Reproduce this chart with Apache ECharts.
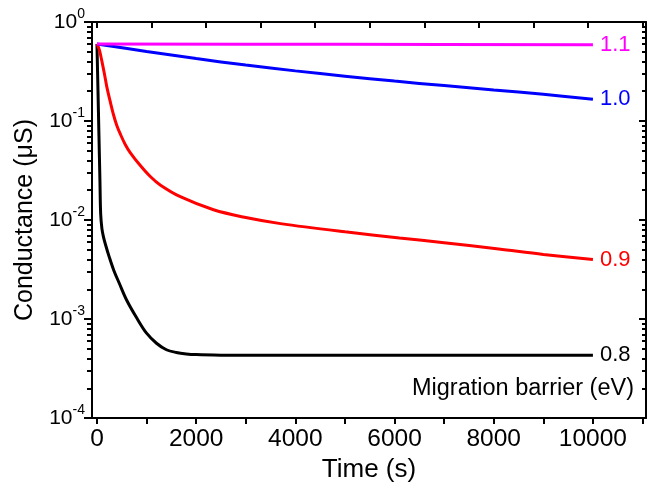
<!DOCTYPE html>
<html>
<head>
<meta charset="utf-8">
<script src="https://cdn.jsdelivr.net/npm/echarts@6/dist/echarts.min.js"></script>
<style>
  html, body { margin: 0; padding: 0; background: #fff; }
  #chart { width: 654px; height: 488px; }
</style>
</head>
<body>
<div id="chart"></div>
<script>
// Conductance decay over time for four migration barriers (eV)
const barrierNames = ['0.8', '0.9', '1.0', '1.1'];
const barrierColors = ['#000000', '#ff0000', '#0000ff', '#ff00ff'];

const timeB08 = [0, 20, 40, 60, 75, 100, 130, 170, 250, 340, 450, 600, 800, 1000, 1200, 1400, 1600, 1800, 2000, 2500, 3000, 4000, 6000, 8000, 10000];
const condB08 = [0.6, 0.21, 0.072, 0.025, 0.0115, 0.0082, 0.0068, 0.0057, 0.0042, 0.0031, 0.0023, 0.00155, 0.00103, 0.00072, 0.00057, 0.00049, 0.00046, 0.000445, 0.000438, 0.000432, 0.00043, 0.00043, 0.00043, 0.00043, 0.00043];

const timeB09 = [0, 50, 100, 150, 200, 270, 335, 400, 470, 570, 670, 870, 1075, 1275, 1680, 2350, 3000, 3700, 5000, 6100, 7000, 8100, 9000, 10000];
const condB09 = [0.6, 0.52, 0.40, 0.30, 0.22, 0.155, 0.115, 0.09, 0.074, 0.058, 0.048, 0.0357, 0.0275, 0.0226, 0.0172, 0.0127, 0.0106, 0.0092, 0.0076, 0.0066, 0.0059, 0.0051, 0.0045, 0.0040];

const timeB10 = [0, 1000, 2000, 3000, 4000, 5000, 6000, 7000, 8000, 9000, 10000];
const condB10 = [0.6, 0.504, 0.427, 0.367, 0.321, 0.284, 0.253, 0.228, 0.206, 0.186, 0.166];

const timeB11 = [0, 5000, 10000];
const condB11 = [0.6, 0.595, 0.59];

const xTickValues = [0, 1000, 2000, 3000, 4000, 5000, 6000, 7000, 8000, 9000, 10000, 11000];
const xLabelValues = [0, 2000, 4000, 6000, 8000, 10000];
const xTopTickValues = [0, 1100, 2200, 3300, 4400, 5500, 6600, 7700, 8800, 9900, 11000];

const FONT = '"Liberation Sans", Arial, Helvetica, sans-serif';

// minor log ticks (2..9 in each decade), expressed as exponents for a linear helper axis
const minorLogExponents = [];
for (let e = -4; e < 0; e++) {
  for (let m = 2; m <= 9; m++) minorLogExponents.push(e + Math.log10(m));
}

const pairs = (ts, vs) => ts.map((t, i) => [t, vs[i]]);
const seriesData = [pairs(timeB08, condB08), pairs(timeB09, condB09), pairs(timeB10, condB10), pairs(timeB11, condB11)];

const axisLineStyle = { color: '#000', width: 2 };
const logBase = { type: 'log', logBase: 10, min: 1e-4, max: 1, splitLine: { show: false } };
const expBase = { type: 'value', min: -4, max: 0, splitLine: { show: false } };

const chart = echarts.init(document.getElementById('chart'), null, { renderer: 'canvas' });
chart.setOption({
  animation: false,
  backgroundColor: '#fff',
  grid: { left: 92, right: 8, top: 22, bottom: 66, containLabel: false },
  xAxis: [
    {
      type: 'value', position: 'bottom', min: -100, max: 11070,
      name: 'Time (s)', nameLocation: 'middle', nameGap: 35,
      nameTextStyle: { fontSize: 26, color: '#000', fontFamily: FONT },
      axisLine: { show: true, onZero: false, lineStyle: axisLineStyle },
      axisTick: { show: true, inside: false, length: 6, lineStyle: { color: '#000', width: 2 }, customValues: xTickValues },
      axisLabel: { show: true, margin: 9, fontSize: 24.5, color: '#000', fontFamily: FONT, customValues: xLabelValues, formatter: v => String(v) },
      splitLine: { show: false }
    },
    {
      type: 'value', position: 'top', min: -100, max: 11070,
      axisLine: { show: true, onZero: false, lineStyle: axisLineStyle },
      axisTick: { show: true, inside: true, length: 6, lineStyle: { color: '#000', width: 2 }, customValues: xTopTickValues },
      axisLabel: { show: false },
      splitLine: { show: false }
    }
  ],
  yAxis: [
    Object.assign({}, logBase, {
      position: 'left',
      name: 'Conductance (\u03bcS)', nameLocation: 'middle', nameGap: 54,
      nameTextStyle: { fontSize: 25, color: '#000', fontFamily: FONT },
      axisLine: { show: true, onZero: false, lineStyle: axisLineStyle },
      axisTick: { show: true, inside: false, length: 8, lineStyle: { color: '#000', width: 2 } },
      axisLabel: {
        show: true, margin: 7, align: 'right', fontFamily: FONT,
        formatter: v => '{b|10}{s|' + Math.round(Math.log10(v)) + '}',
        rich: {
          b: { fontSize: 21, color: '#000', fontFamily: FONT, lineHeight: 30 },
          s: { fontSize: 14, color: '#000', fontFamily: FONT, verticalAlign: 'top', lineHeight: 14 }
        }
      }
    }),
    Object.assign({}, expBase, {
      position: 'left',
      axisLine: { show: false, onZero: false },
      axisTick: { show: true, inside: false, length: 5, lineStyle: { color: '#000', width: 2 }, customValues: minorLogExponents },
      axisLabel: { show: false }
    }),
    Object.assign({}, logBase, {
      position: 'right',
      axisLine: { show: true, onZero: false, lineStyle: axisLineStyle },
      axisTick: { show: true, inside: true, length: 7, lineStyle: { color: '#000', width: 2 } },
      axisLabel: { show: false }
    }),
    Object.assign({}, expBase, {
      position: 'right',
      axisLine: { show: false, onZero: false },
      axisTick: { show: true, inside: true, length: 4, lineStyle: { color: '#000', width: 2 }, customValues: minorLogExponents },
      axisLabel: { show: false }
    })
  ],
  graphic: [
    {
      type: 'text', x: 634, y: 389, silent: true,
      style: { text: 'Migration barrier (eV)', fill: '#000', font: '23.5px ' + FONT, align: 'right', verticalAlign: 'middle' }
    }
  ],
  series: barrierNames.map((name, i) => ({
    name: name,
    type: 'line',
    xAxisIndex: 0,
    yAxisIndex: 0,
    data: seriesData[i],
    showSymbol: false,
    smooth: 0.35,
    lineStyle: { color: barrierColors[i], width: 3 },
    itemStyle: { color: barrierColors[i] },
    endLabel: { show: true, formatter: name, color: barrierColors[i], fontSize: 22, fontFamily: FONT, distance: 7 },
    z: 2 + i
  }))
});
</script>
</body>
</html>
